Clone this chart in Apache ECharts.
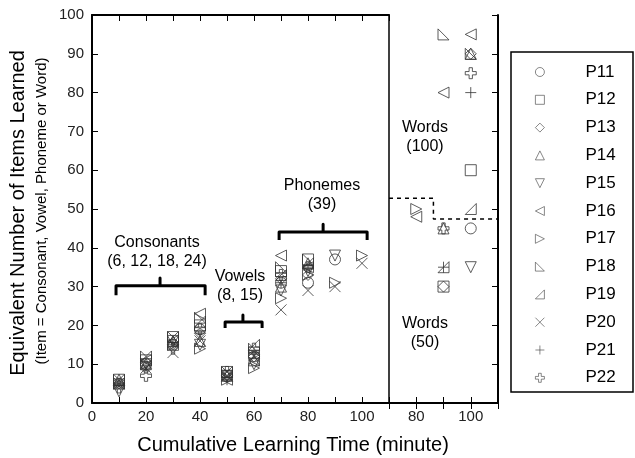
<!DOCTYPE html>
<html>
<head>
<meta charset="utf-8">
<script src="https://cdn.jsdelivr.net/npm/echarts@6/dist/echarts.min.js"></script>
<style>
  html, body { margin: 0; padding: 0; background: #fff; }
  #chart { width: 635px; height: 458px; }
</style>
</head>
<body>
<div id="chart"></div>
<script>
// cumulative time for the letter/phoneme sessions (left panel)
const timesLeft = [10, 20, 30, 40, 50, 60, 70, 80, 90, 100]

const names = ['P11', 'P12', 'P13', 'P14', 'P15', 'P16', 'P17', 'P18', 'P19', 'P20', 'P21', 'P22']

// items learned per participant at each time in timesLeft (null = no session)
const p11 = [5, 10, 15, 19, 7, 12, 31, 31, 37, null]
const p12 = [6, 11, 17, 20, 8, 13, 34, 37, null, null]
const p13 = [5, 9, 15, 18, 7, 12, 32, 33, null, null]
const p14 = [6, 10, 16, 16, 7, 11, 30, 36, null, null]
const p15 = [3, 10, 16, 15, 7, 10, 29, 34, 38, null]
const p16 = [5, 11, 16, 23, 6, 11, 38, 35, null, null]
const p17 = [5, 10, 15, 14, 6, 9, 27, 33, 31, 38]
const p18 = [6, 12, 17, 22, 8, 14, 35, 37, null, null]
const p19 = [6, 12, 17, 21, 8, 15, 33, 36, null, null]
const p20 = [5, 9, 13, 16, 7, 12, 24, 29, 30, 36]
const p21 = [5, 9, 15, 18, 6, 13, 31, 35, null, null]
const p22 = [4, 7, 14, 19, 8, 14, 33, 35, null, null]
const leftValues = [p11, p12, p13, p14, p15, p16, p17, p18, p19, p20, p21, p22]

// word sessions (right panel): [time, equivalent items]
const w11 = [[100, 45]]
const w12 = [[90, 30], [100, 60]]
const w13 = [[90, 30], [100, 90]]
const w14 = [[90, 45], [100, 90]]
const w15 = [[100, 35]]
const w16 = [[80, 48], [90, 80], [100, 95]]
const w17 = [[80, 50]]
const w18 = [[90, 95], [100, 90]]
const w19 = [[90, 35], [100, 50]]
const w20 = []
const w21 = [[90, 35], [100, 80]]
const w22 = [[90, 45], [100, 85]]
const wordValues = [w11, w12, w13, w14, w15, w16, w17, w18, w19, w20, w21, w22]

// tick labels
const yTicks = [0, 10, 20, 30, 40, 50, 60, 70, 80, 90, 100]
const xLabelsLeft = [0, 20, 40, 60, 80, 100]
const xLabelsRight = [80, 100]

// brackets over the groups and the dashed 50/100 words divider
const bracketConsonants = [[8.9, 27.8], [8.9, 30.2], [25.2, 30.2], [25.2, 32.2], [25.2, 30.2], [41.9, 30.2], [41.9, 27.8]]
const bracketVowels = [[49.3, 19.3], [49.3, 20.9], [55.9, 20.9], [55.9, 22.7], [55.9, 20.9], [63, 20.9], [63, 19.3]]
const bracketPhonemes = [[69.3, 42], [69.3, 44.1], [85.6, 44.1], [85.6, 46.1], [85.6, 44.1], [101.9, 44.1], [101.9, 42]]
const wordsDivider = [[70, 52.8], [86.3, 52.8], [86.3, 47.4], [110, 47.4]]

const symbols = [
  'circle',
  'rect',
  'diamond',
  'triangle',
  'path://M0,0 L10,0 L5,10 Z',
  'path://M10,0 L10,10 L0,5 Z',
  'path://M0,0 L0,10 L10,5 Z',
  'path://M0,0 L0,10 L10,10 Z',
  'path://M10,0 L10,10 L0,10 Z',
  'path://M0,0 L10,10 M10,0 L0,10',
  'path://M5,0 L5,10 M0,5 L10,5',
  'path://M3.5,0 L6.5,0 L6.5,3.5 L10,3.5 L10,6.5 L6.5,6.5 L6.5,10 L3.5,10 L3.5,6.5 L0,6.5 L0,3.5 L3.5,3.5 Z'
]

const font = 'Liberation Sans, Arial, sans-serif'
const markColor = '#333'

const chart = echarts.init(document.getElementById('chart'))

const frame = { lineStyle: { color: '#000', width: 2 } }
const ticksIn = { show: true, inside: true, length: 6, lineStyle: { color: '#000', width: 1 } }

const series = []
names.forEach((name, i) => {
  const style = {
    symbol: symbols[i],
    symbolSize: 11,
    itemStyle: { color: 'rgba(0,0,0,0)', borderColor: markColor, borderWidth: 1 }
  }
  series.push({
    type: 'scatter',
    name: name,
    xAxisIndex: 0,
    yAxisIndex: 0,
    data: timesLeft.map((t, j) => [t, leftValues[i][j]]).filter(d => d[1] !== null),
    ...style
  })
  series.push({
    type: 'scatter',
    name: name,
    xAxisIndex: 2,
    yAxisIndex: 1,
    data: wordValues[i],
    ...style
  })
})

;[bracketConsonants, bracketVowels, bracketPhonemes].forEach(b => {
  series.push({
    type: 'line',
    xAxisIndex: 0,
    yAxisIndex: 0,
    data: b,
    symbol: 'none',
    silent: true,
    lineStyle: { color: '#000', width: 3, join: 'round' }
  })
})
series.push({
  type: 'line',
  xAxisIndex: 2,
  yAxisIndex: 1,
  data: wordsDivider,
  symbol: 'none',
  silent: true,
  lineStyle: { color: '#000', width: 1.5, type: [4, 4] }
})

const labelText = (x, y, text) => ({
  type: 'text',
  x: x,
  y: y,
  style: { text: text, font: '16px ' + font, fill: '#000', textAlign: 'center', textVerticalAlign: 'middle' }
})

const option = {
  animation: false,
  textStyle: { fontFamily: font },
  grid: [
    { left: 92, right: 246, top: 15, bottom: 55 },
    { left: 389, right: 137, top: 15, bottom: 55 }
  ],
  xAxis: [
    {
      gridIndex: 0, type: 'value', min: 0, max: 110, interval: 10,
      axisLine: frame, axisTick: ticksIn, splitLine: { show: false },
      axisLabel: {
        color: '#222', fontSize: 15, margin: 6,
        formatter: v => (xLabelsLeft.includes(v) ? String(v) : '')
      }
    },
    {
      gridIndex: 0, type: 'value', position: 'top', min: 0, max: 110, interval: 10,
      axisLine: frame, axisTick: ticksIn, axisLabel: { show: false }, splitLine: { show: false }
    },
    {
      gridIndex: 1, type: 'value', min: 70, max: 110, interval: 10,
      axisLine: frame, axisTick: ticksIn, splitLine: { show: false },
      axisLabel: {
        color: '#222', fontSize: 15, margin: 6,
        formatter: v => (xLabelsRight.includes(v) ? String(v) : '')
      }
    },
    {
      gridIndex: 1, type: 'value', position: 'top', min: 70, max: 110, interval: 10,
      axisLine: frame, axisTick: ticksIn, axisLabel: { show: false }, splitLine: { show: false }
    }
  ],
  yAxis: [
    {
      gridIndex: 0, type: 'value', min: 0, max: 100, interval: 10,
      axisLine: { show: true, ...frame }, axisTick: ticksIn, splitLine: { show: false },
      axisLabel: {
        color: '#222', fontSize: 15, margin: 8,
        formatter: v => (yTicks.includes(v) ? String(v) : '')
      }
    },
    {
      gridIndex: 1, type: 'value', min: 0, max: 100, interval: 10,
      axisLine: { show: true, lineStyle: { color: '#000', width: 1.5 } },
      axisTick: { show: false }, axisLabel: { show: false }, splitLine: { show: false }
    },
    {
      gridIndex: 1, type: 'value', position: 'right', min: 0, max: 100, interval: 10,
      axisLine: { show: true, ...frame }, axisTick: ticksIn,
      axisLabel: { show: false }, splitLine: { show: false }
    }
  ],
  legend: {
    data: names,
    orient: 'vertical',
    left: 530,
    top: 58,
    itemWidth: 9,
    itemHeight: 9,
    itemGap: 9.8,
    selectedMode: false,
    itemStyle: { borderWidth: 0.8, borderColor: '#444', color: 'rgba(0,0,0,0)' },
    textStyle: { fontSize: 17, color: '#000', lineHeight: 18, padding: [0, 0, 0, 36] }
  },
  graphic: [
    {
      type: 'rect',
      shape: { x: 511, y: 52, width: 122, height: 340 },
      style: { fill: 'none', stroke: '#000', lineWidth: 1.5 }
    },
    {
      type: 'text', x: 18, y: 213, rotation: Math.PI / 2,
      style: { text: 'Equivalent Number of Items Learned', font: '20px ' + font, fill: '#000', textAlign: 'center', textVerticalAlign: 'middle' }
    },
    {
      type: 'text', x: 42, y: 211, rotation: Math.PI / 2,
      style: { text: '(Item = Consonant, Vowel, Phoneme or Word)', font: '15px ' + font, fill: '#000', textAlign: 'center', textVerticalAlign: 'middle' }
    },
    {
      type: 'text', x: 293, y: 445,
      style: { text: 'Cumulative Learning Time (minute)', font: '20px ' + font, fill: '#000', textAlign: 'center', textVerticalAlign: 'middle' }
    },
    labelText(157, 243, 'Consonants'),
    labelText(157, 262, '(6, 12, 18, 24)'),
    labelText(240, 277, 'Vowels'),
    labelText(240, 296, '(8, 15)'),
    labelText(322, 186, 'Phonemes'),
    labelText(322, 205, '(39)'),
    labelText(425, 128, 'Words'),
    labelText(425, 147, '(100)'),
    labelText(425, 324, 'Words'),
    labelText(425, 343, '(50)')
  ],
  series: series
}

chart.setOption(option)
</script>
</body>
</html>
